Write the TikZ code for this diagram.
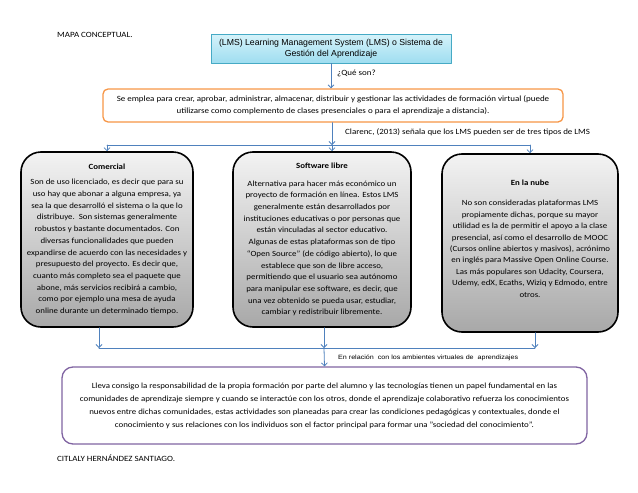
\documentclass[tikz,border=0pt]{standalone}
\usepackage{fontspec}
\setmainfont{Carlito}[FakeStretch=1.12]
\newfontfamily\arialf{Liberation Sans}
\newfontfamily\arialancha{Liberation Sans}[FakeStretch=1.15]
\usepackage{tikz}
\usetikzlibrary{arrows.meta}
\definecolor{azul}{RGB}{79,129,189}
\definecolor{naranja}{RGB}{247,150,70}
\definecolor{morado}{RGB}{128,100,162}
\definecolor{cian}{RGB}{70,170,197}
\definecolor{cianclaro}{RGB}{214,243,250}
\definecolor{cianmedio}{RGB}{158,221,240}
\definecolor{grisclaro}{RGB}{243,243,243}
\definecolor{grisoscuro}{RGB}{168,168,168}
\tikzset{
    flecha/.style = {draw=azul, line width=0.8pt, -{Straight Barb[length=3pt,width=6pt]}},
    linea/.style = {draw=azul, line width=0.8pt},
    titulo/.style = {draw=cian, line width=0.8pt, top color=cianclaro, bottom color=cianmedio,
        minimum width=240pt, minimum height=29pt, align=center, inner sep=0pt,
        font=\arialf\fontsize{8.7}{11}\selectfont},
    idea/.style = {draw=naranja, line width=1.3pt, rounded corners=5pt, fill=white,
        minimum width=460pt, minimum height=33pt, align=center, inner sep=0pt,
        font=\fontsize{8}{12}\selectfont},
    tipo/.style = {draw=black, line width=1.6pt, rounded corners=20pt, top color=grisclaro,
        bottom color=grisoscuro, align=center, inner sep=0pt,
        font=\fontsize{7.9}{11.7}\selectfont},
    cierre/.style = {draw=morado, line width=1.3pt, rounded corners=11pt, fill=white,
        minimum width=525pt, minimum height=77pt, align=center, inner sep=0pt,
        font=\fontsize{7.9}{13}\selectfont},
    etiqueta/.style = {anchor=west, inner sep=0pt, font=\fontsize{8}{9}\selectfont}
}
\begin{document}
\begin{tikzpicture}[x=1pt,y=-1pt,line cap=round,line join=round]
\useasboundingbox (0,0) rectangle (638,493);
\node[etiqueta] (mapa) at (57,35) {MAPA CONCEPTUAL.};
\node[titulo] (lms) at (331,48.5) {(LMS) Learning Management System (LMS) o Sistema de\\Gestión del Aprendizaje};
\node[idea] (uso) at (333,105.5) {Se emplea para crear, aprobar, administrar, almacenar, distribuir y gestionar las actividades de formación virtual (puede\\utilizarse como complemento de clases presenciales o para el aprendizaje a distancia).};
\node[etiqueta] (que) at (337,73) {¿Qué son?};
\node[etiqueta] (clarenc) at (345,132) {Clarenc, (2013) señala que los LMS pueden ser de tres tipos de LMS};
\node[tipo, minimum width=172pt, minimum height=175pt] (comercial) at (107,239.5) {\textbf{Comercial}\\[3.5pt]
Son de uso licenciado, es decir que para su\\
uso hay que abonar a alguna empresa, ya\\
sea la que desarrolló el sistema o la que lo\\
distribuye.\ \ Son sistemas generalmente\\
robustos y bastante documentados. Con\\
diversas funcionalidades que pueden\\
expandirse de acuerdo con las necesidades y\\
presupuesto del proyecto. Es decir que,\\
cuanto más completo sea el paquete que\\
abone, más servicios recibirá a cambio,\\
como por ejemplo una mesa de ayuda\\
online durante un determinado tiempo.};
\node[tipo, minimum width=178pt, minimum height=175pt] (libre) at (322,239.5) {\textbf{Software libre}\\[6pt]
Alternativa para hacer más económico un\\
proyecto de formación en línea. Estos LMS\\
generalmente están desarrollados por\\
instituciones educativas o por personas que\\
están vinculadas al sector educativo.\\
Algunas de estas plataformas son de tipo\\
“Open Source” (de código abierto), lo que\\
establece que son de libre acceso,\\
permitiendo que el usuario sea autónomo\\
para manipular ese software, es decir, que\\
una vez obtenido se pueda usar, estudiar,\\
cambiar y redistribuir libremente.};
\node[tipo, minimum width=176pt, minimum height=178pt, font=\fontsize{7.9}{11.4}\selectfont] (nube) at (530,243) {\textbf{En la nube}\\[9pt]
No son consideradas plataformas LMS\\
propiamente dichas, porque su mayor\\
utilidad es la de permitir el apoyo a la clase\\
presencial, así como el desarrollo de MOOC\\
(Cursos online abiertos y masivos), acrónimo\\
en inglés para Massive Open Online Course.\\
Las más populares son Udacity, Coursera,\\
Udemy, edX, Ecaths, Wiziq y Edmodo, entre\\
otros.\\[-2.5pt]};
\node[cierre] (relacion) at (324.5,405.5) {Lleva consigo la responsabilidad de la propia formación por parte del alumno y las tecnologías tienen un papel fundamental en las\\
comunidades de aprendizaje siempre y cuando se interactúe con los otros, donde el aprendizaje colaborativo refuerza los conocimientos\\
nuevos entre dichas comunidades, estas actividades son planeadas para crear las condiciones pedagógicas y contextuales, donde el\\
conocimiento y sus relaciones con los individuos son el factor principal para formar una "sociedad del conocimiento".};
\node[etiqueta, font=\arialancha\fontsize{6.2}{7}\selectfont] (ambientes) at (338,358) {En relación\ \ con los ambientes virtuales de\ \ aprendizajes};
\node[etiqueta] (autora) at (57,458) {CITLALY HERNÁNDEZ SANTIAGO.};
\coordinate (b1) at (332,145);
\coordinate (b2) at (324,348);
\coordinate (i1) at (99,348);
\coordinate (i3) at (535,348);
\draw[flecha] (lms.south) -- (lms.south |- uso.north);
\draw[flecha] (b1 |- uso.south) -- (b1);
\draw[linea] (b1 -| comercial) -- (b1 -| nube);
\draw[flecha] (b1 -| comercial) -- (comercial.north);
\draw[flecha] (b1) -- (b1 |- libre.north);
\draw[flecha] (b1 -| nube) -- (nube.north);
\draw[flecha] (i1 |- comercial.south) -- (i1);
\draw[flecha] (b2 |- libre.south) -- (b2);
\draw[flecha] (i3 |- nube.south) -- (i3);
\draw[linea] (i1) -- (i3);
\draw[flecha] (b2) -- (relacion.north);
\end{tikzpicture}
\end{document}
